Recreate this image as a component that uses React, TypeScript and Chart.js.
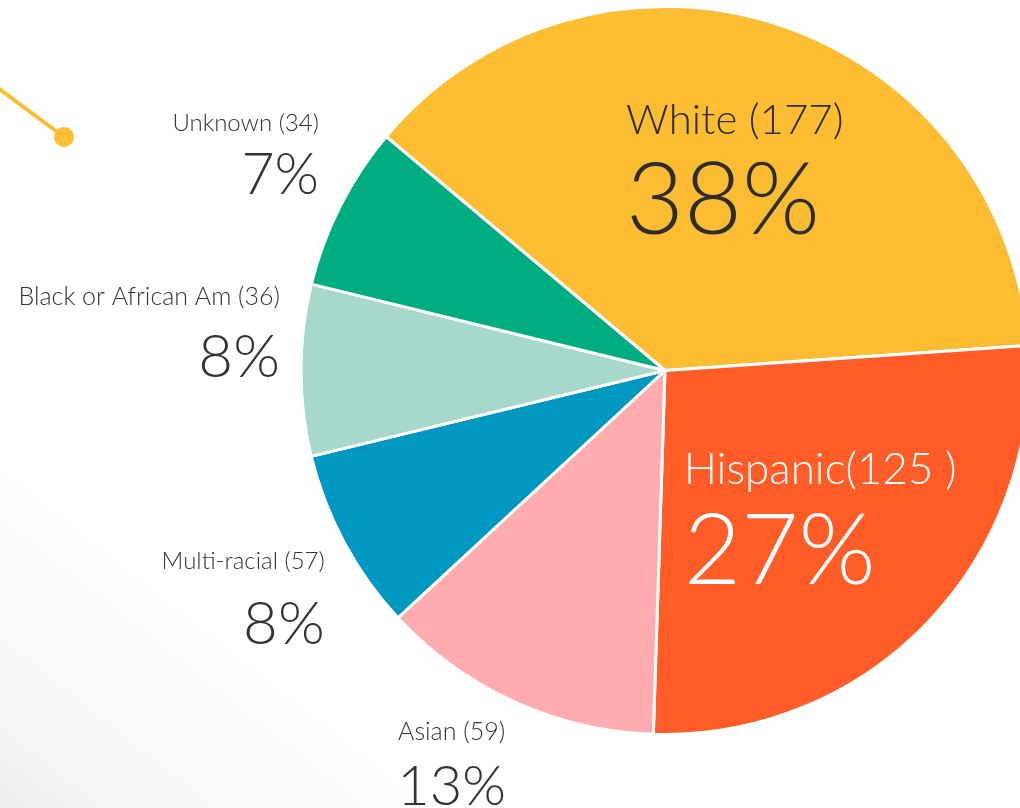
import React, { useEffect, useRef } from "react";
import { Chart, registerables } from "chart.js";

Chart.register(...registerables);

// ---- data ----
const categories = ["White", "Hispanic", "Asian", "Multi-racial", "Black or African Am", "Unknown"];
const counts = [177, 125, 59, 57, 36, 34];
const shares = [37.8, 26.6, 12.6, 8.1, 7.6, 7.3];
const pctLabels = ["38%", "27%", "13%", "8%", "8%", "7%"];
const nameLabels = [
  "White (177)",
  "Hispanic(125 )",
  "Asian (59)",
  "Multi-racial (57)",
  "Black or African Am (36)",
  "Unknown (34)",
];
const sliceColors = ["#FDBD33", "#FF5C27", "#FFABAF", "#0098C0", "#A6D8CC", "#00AD81"];

// ---- label layout (relative to each arc's geometry) ----
type LabelLayout = {
  angleOffset: number;
  radiusFactor: number;
  align: CanvasTextAlign;
  nameSize: number;
  pctSize: number;
  gap: number;
  color: string;
};
const labelLayout: LabelLayout[] = [
  { angleOffset: -27.4, radiusFactor: 0.658, align: "left", nameSize: 42, pctSize: 100, gap: 100, color: "#2d2d30" },
  { angleOffset: 36.7, radiusFactor: 0.317, align: "left", nameSize: 44, pctSize: 99, gap: 100, color: "#ffffff" },
  { angleOffset: 5.5, radiusFactor: 1.172, align: "center", nameSize: 25, pctSize: 56, gap: 65, color: "#333333" },
  { angleOffset: -2.0, radiusFactor: 1.082, align: "right", nameSize: 24, pctSize: 60, gap: 75, color: "#333333" },
  { angleOffset: 9.6, radiusFactor: 1.073, align: "right", nameSize: 25, pctSize: 60, gap: 72, color: "#333333" },
  { angleOffset: 7.8, radiusFactor: 1.156, align: "right", nameSize: 24, pctSize: 57, gap: 63, color: "#333333" },
];

const FONT = "Lato, 'Open Sans', sans-serif";

const labelPlugin = {
  id: "sliceLabels",
  afterDatasetsDraw(chart: any) {
    const ctx: CanvasRenderingContext2D = chart.ctx;
    const meta = chart.getDatasetMeta(0);
    ctx.save();
    meta.data.forEach((arc: any, i: number) => {
      const p = arc.getProps(["x", "y", "startAngle", "endAngle", "outerRadius"], true);
      const L = labelLayout[i];
      const a = (p.startAngle + p.endAngle) / 2 + (L.angleOffset * Math.PI) / 180;
      const px = p.x + Math.cos(a) * p.outerRadius * L.radiusFactor;
      const py = p.y + Math.sin(a) * p.outerRadius * L.radiusFactor;
      ctx.fillStyle = L.color;
      ctx.textAlign = L.align;
      ctx.textBaseline = "alphabetic";
      ctx.font = `300 ${L.nameSize}px ${FONT}`;
      ctx.fillText(nameLabels[i], px, py);
      ctx.font = `300 ${L.pctSize}px ${FONT}`;
      ctx.fillText(pctLabels[i], px, py + L.gap);
    });
    ctx.restore();
  },
};

const decorPlugin = {
  id: "decorLine",
  afterDraw(chart: any) {
    const ctx: CanvasRenderingContext2D = chart.ctx;
    ctx.save();
    ctx.strokeStyle = "#FDBD33";
    ctx.fillStyle = "#FDBD33";
    ctx.lineWidth = 4;
    ctx.beginPath();
    ctx.moveTo(-2, 88);
    ctx.lineTo(64, 137);
    ctx.stroke();
    ctx.beginPath();
    ctx.arc(64, 137, 10, 0, Math.PI * 2);
    ctx.fill();
    ctx.restore();
  },
};

export default function App() {
  const ref = useRef<HTMLCanvasElement | null>(null);
  useEffect(() => {
    document.body.style.margin = "0";
    if (!ref.current) return;
    const chart = new Chart(ref.current, {
      type: "pie",
      data: {
        labels: categories,
        datasets: [
          {
            data: shares,
            backgroundColor: sliceColors,
            borderColor: "#ffffff",
            borderWidth: 3,
          },
        ],
      },
      options: {
        responsive: false,
        animation: false,
        rotation: -50,
        layout: { padding: { top: 5, bottom: 72, left: 0, right: 0 } },
        plugins: {
          legend: { display: false },
          tooltip: { enabled: false },
        },
      },
      plugins: [labelPlugin, decorPlugin],
    });
    return () => chart.destroy();
  }, []);

  return (
    <div
      style={{
        position: "fixed",
        left: 0,
        top: 0,
        width: 1020,
        height: 808,
        overflow: "hidden",
        background: "linear-gradient(to top right, #eeeeee 0%, #f8f8f8 10%, #ffffff 22%)",
      }}
    >
      <canvas ref={ref} width={1330} height={808} style={{ width: 1330, height: 808, display: "block" }} />
    </div>
  );
}
